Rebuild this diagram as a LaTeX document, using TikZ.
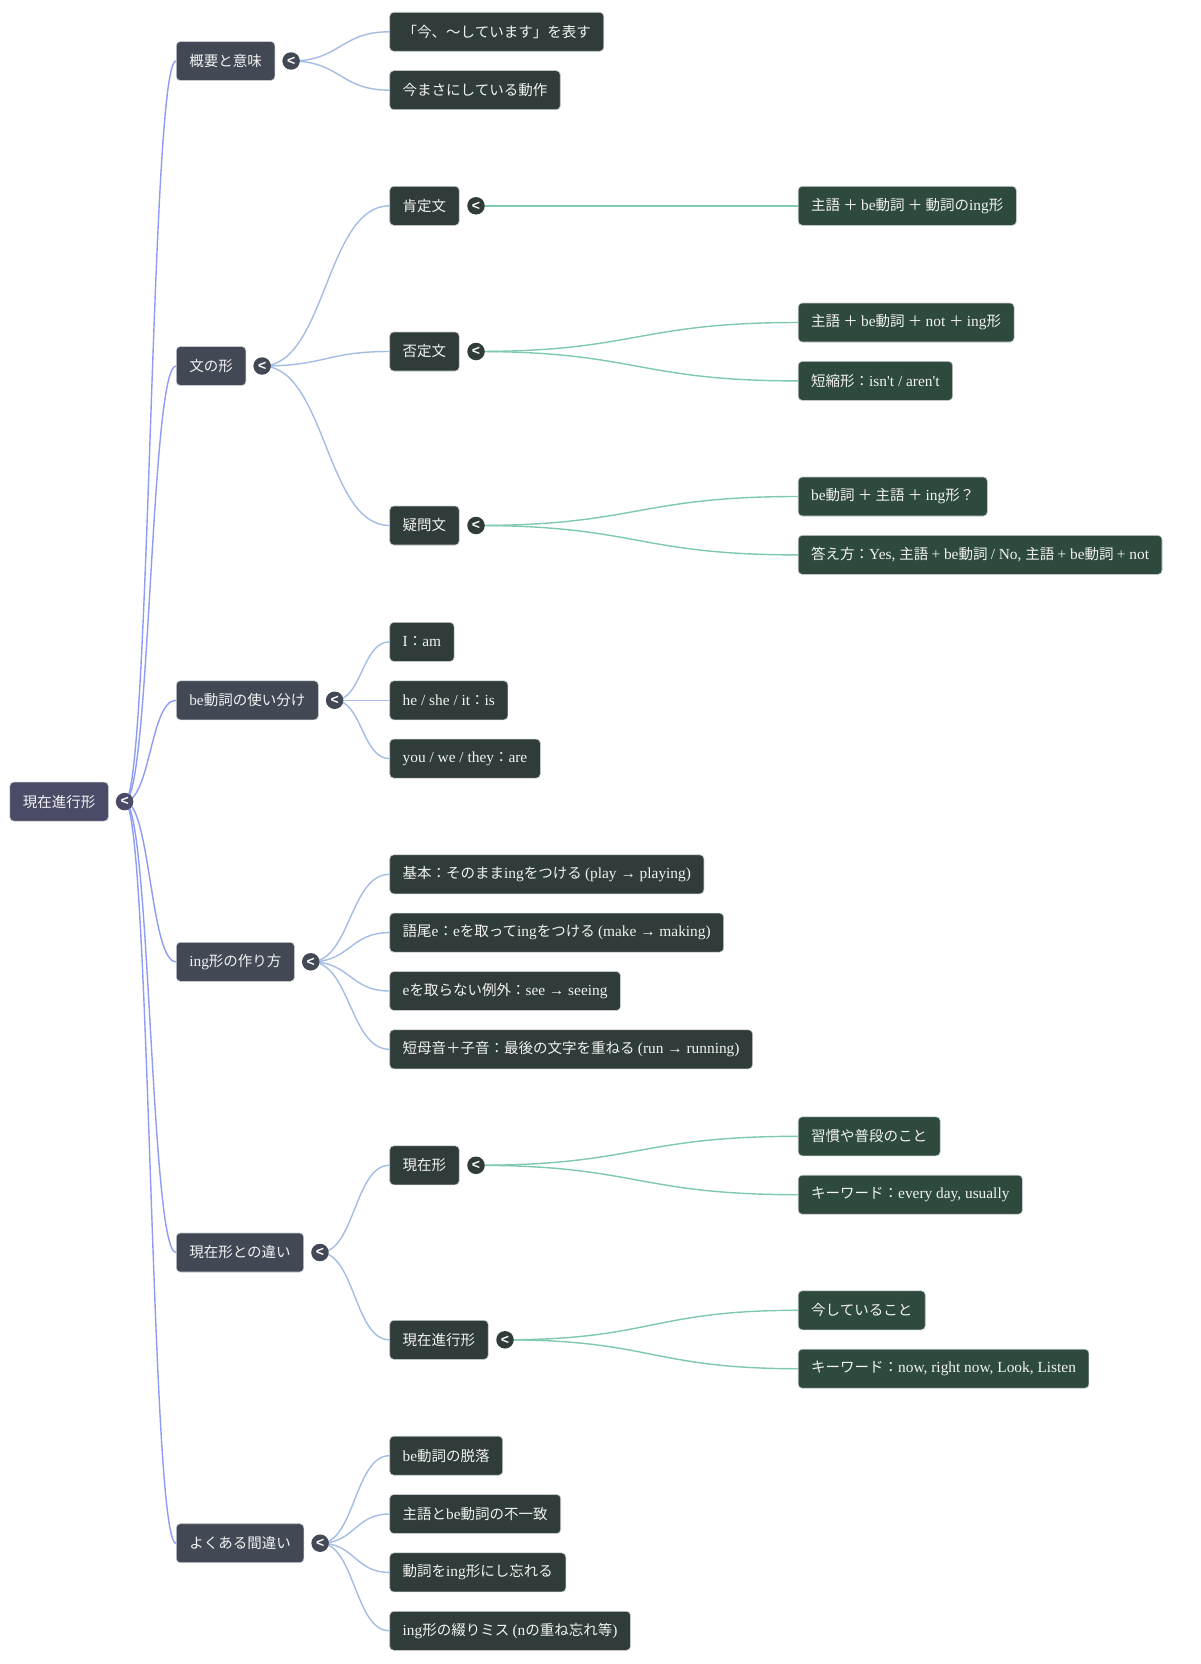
\documentclass[tikz,border=0pt]{standalone}
\usepackage{fontspec}
\setmainfont{Liberation Serif}[Scale=1.06]
\newfontfamily\cjk{Noto Sans CJK JP}
\newfontfamily\lat{Liberation Serif}[Scale=1.06]
\newfontfamily\togfont{Liberation Sans}
\usetikzlibrary{calc,backgrounds}
\XeTeXinterchartokenstate=1
\newXeTeXintercharclass\jpclass
\newXeTeXintercharclass\togclass
\makeatletter
\count@="3000
\loop
  \XeTeXcharclass\count@=\jpclass
  \ifnum\count@<"9FFF \advance\count@ by 1
\repeat
\count@="FF00
\loop
  \XeTeXcharclass\count@=\jpclass
  \ifnum\count@<"FFEF \advance\count@ by 1
\repeat
\makeatother
\XeTeXcharclass`\<=\togclass
\XeTeXinterchartoks 0 \jpclass = {\cjk}
\XeTeXinterchartoks 4095 \jpclass = {\cjk}
\XeTeXinterchartoks \jpclass 0 = {\lat}
\XeTeXinterchartoks 4095 0 = {\lat}
\definecolor{rootfill}{HTML}{4A4C67}
\definecolor{lonefill}{HTML}{424955}
\definecolor{ltwofill}{HTML}{2F3C39}
\definecolor{lthreefill}{HTML}{2E4A3D}
\definecolor{rootedge}{HTML}{8E9CF6}
\definecolor{loneedge}{HTML}{A4BDE4}
\definecolor{ltwoedge}{HTML}{7FC9B0}
\definecolor{boxline}{HTML}{C4CACF}
\definecolor{boxtext}{HTML}{F2F2F2}
\begin{document}
\begin{tikzpicture}[x=1pt,y=-1pt,
  every node/.style={font=\fontsize{14.5}{17}\selectfont},
  basebox/.style={rounded corners=4pt, minimum height=39pt, inner xsep=13pt,
    inner ysep=0pt, text=boxtext, draw=boxline, line width=0.6pt, anchor=west},
  rootbox/.style={basebox, fill=rootfill},
  lonebox/.style={basebox, fill=lonefill},
  ltwobox/.style={basebox, fill=ltwofill},
  lthreebox/.style={basebox, fill=lthreefill},
  tog/.style={circle, minimum size=17.5pt, inner sep=0pt, text=white,
    font=\togfont\bfseries\fontsize{14}{14}\selectfont},
  curvy/.style={to path={let \p1=(\tikztostart), \p2=(\tikztotarget) in
    (\p1) .. controls ({(\x1+\x2)/2},\y1) and ({(\x1+\x2)/2},\y2) .. (\p2)}},
  ezero/.style={draw=rootedge, line width=1.4pt},
  eone/.style={draw=loneedge, line width=1.4pt},
  etwo/.style={draw=ltwoedge, line width=1.4pt}
]
\begin{scope}[on background layer]
  \fill[white] (0,0) rectangle (1200,1664);
\end{scope}
\useasboundingbox (0,0) rectangle (1200,1664);

% root
\node[rootbox] (r) at (9.5,801.6) {現在進行形};
\node[tog, fill=rootfill] (rc) at ([xshift=16pt]r.east) {<};

% level 1
\node[lonebox] (a) at (176,61) {概要と意味};
\node[lonebox] (b) at (176,366) {文の形};
\node[lonebox] (c) at (176,700.3) {be動詞の使い分け};
\node[lonebox] (d) at (176,961.8) {ing形の作り方};
\node[lonebox] (e) at (176,1252.5) {現在形との違い};
\node[lonebox] (f) at (176,1543.2) {よくある間違い};
\foreach \q in {a,b,c,d,e,f}
  \node[tog, fill=lonefill] (\q t) at ([xshift=16pt]\q.east) {<};

% level 2
\node[ltwobox] (a1) at (389.4,31.8) {「今、〜しています」を表す};
\node[ltwobox] (a2) at (389.4,90.2) {今まさにしている動作};
\node[ltwobox] (b1) at (389.4,205.8) {肯定文};
\node[ltwobox] (b2) at (389.4,351.5) {否定文};
\node[ltwobox] (b3) at (389.4,525.5) {疑問文};
\node[ltwobox] (c1) at (389.4,641.9) {I：am};
\node[ltwobox] (c2) at (389.4,700.3) {he / she / it：is};
\node[ltwobox] (c3) at (389.4,758.6) {you / we / they：are};
\node[ltwobox] (d1) at (389.4,874.3) {基本：そのままingをつける (play → playing)};
\node[ltwobox] (d2) at (389.4,932.6) {語尾e：eを取ってingをつける (make → making)};
\node[ltwobox] (d3) at (389.4,991) {eを取らない例外：see → seeing};
\node[ltwobox] (d4) at (389.4,1049.3) {短母音＋子音：最後の文字を重ねる (run → running)};
\node[ltwobox] (e1) at (389.4,1165.3) {現在形};
\node[ltwobox] (e2) at (389.4,1339.8) {現在進行形};
\node[ltwobox] (f1) at (389.4,1455.7) {be動詞の脱落};
\node[ltwobox] (f2) at (389.4,1514) {主語とbe動詞の不一致};
\node[ltwobox] (f3) at (389.4,1572.4) {動詞をing形にし忘れる};
\node[ltwobox] (f4) at (389.4,1630.8) {ing形の綴りミス (nの重ね忘れ等)};
\foreach \q in {b1,b2,b3,e1,e2}
  \node[tog, fill=ltwofill] (\q t) at ([xshift=16.5pt]\q.east) {<};

% level 3
\node[lthreebox] (b1a) at (797.9,205.8) {主語 ＋ be動詞 ＋ 動詞のing形};
\node[lthreebox] (b2a) at (797.9,322.5) {主語 ＋ be動詞 ＋ not ＋ ing形};
\node[lthreebox] (b2b) at (797.9,380.9) {短縮形：isn\textquotesingle t / aren\textquotesingle t};
\node[lthreebox] (b3a) at (797.9,496.5) {be動詞 ＋ 主語 ＋ ing形？};
\node[lthreebox] (b3b) at (797.9,554.9) {答え方：Yes, 主語 + be動詞 / No, 主語 + be動詞 + not};
\node[lthreebox] (e1a) at (797.9,1136.3) {習慣や普段のこと};
\node[lthreebox] (e1b) at (797.9,1194.7) {キーワード：every day, usually};
\node[lthreebox] (e2a) at (797.9,1310.3) {今していること};
\node[lthreebox] (e2b) at (797.9,1368.7) {キーワード：now, right now, Look, Listen};

% connectors
\begin{scope}[on background layer]
  \foreach \q in {a,b,c,d,e,f}
    \draw[ezero] (rc.center) to[curvy] (\q.west);
  \foreach \src/\dst in {a/a1,a/a2,b/b1,b/b2,b/b3,c/c1,c/c2,c/c3,d/d1,d/d2,d/d3,d/d4,e/e1,e/e2,f/f1,f/f2,f/f3,f/f4}
    \draw[eone] (\src t.center) to[curvy] (\dst.west);
  \foreach \src/\dst in {b1/b1a,b2/b2a,b2/b2b,b3/b3a,b3/b3b,e1/e1a,e1/e1b,e2/e2a,e2/e2b}
    \draw[etwo] (\src t.center) to[curvy] (\dst.west);
\end{scope}
\end{tikzpicture}
\end{document}
